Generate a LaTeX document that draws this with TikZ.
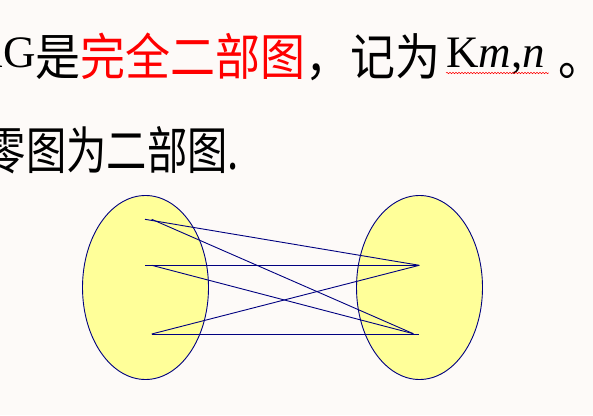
\documentclass[tikz,border=0pt]{standalone}
\usepackage{fontspec}
\setmainfont{Liberation Serif}
\newfontfamily\cjkA[FakeStretch=0.9]{Noto Sans CJK SC}
\newfontfamily\cjkB[FakeStretch=0.79]{Noto Sans CJK SC}
\usetikzlibrary{shapes.geometric,decorations.pathmorphing}
\definecolor{bg}{RGB}{253,250,248}
\definecolor{navyc}{RGB}{0,0,128}
\definecolor{pale}{RGB}{255,255,153}
\definecolor{redc}{RGB}{255,0,0}
\begin{document}
\begin{tikzpicture}[x=1pt,y=1pt,
  txt/.style={inner sep=0pt, outer sep=0pt, anchor=base west},
  latinfont/.style={font=\fontsize{45}{45}\selectfont},
  cjkfontA/.style={font=\cjkA\fontsize{50}{50}\selectfont},
  cjkfontB/.style={font=\cjkB\fontsize{51}{51}\selectfont},
  setell/.style={draw=navyc, fill=pale, line width=0.9pt, ellipse, inner sep=0pt,
                 minimum width=126pt, minimum height=184pt},
  edgeline/.style={draw=navyc, line width=0.9pt}]
\fill[bg] (0,0) rectangle (593,415);
\useasboundingbox (0,0) rectangle (593,415);
% first line
\node[txt, latinfont] (kg) at (-29,347) {KG};
\node[txt, cjkfontA] (shi) at (35.5,339) {是\textcolor{redc}{完全二部图}，记为};
\node[txt, latinfont] (kmn) at (446,347) {K\textit{m},\textit{n}};
\node[txt, cjkfontA] (stop) at (558,339) {。};
\draw[redc, line width=0.5pt, decorate,
      decoration={snake, amplitude=0.7pt, segment length=3pt}]
  ([yshift=-5pt]kmn.base west) -- ([yshift=-5pt,xshift=4pt]kmn.base east);
% second line
\node[txt, cjkfontB] (line2) at (-14,245) {零图为二部图.};
% sets
\node[setell] (A) at (145.5,127.5) {};
\node[setell] (B) at (419.5,127.5) {};
% vertices
\coordinate (l1a) at (145,195.7);
\coordinate (l1b) at (151.7,195.7);
\coordinate (l2a) at (145,149.7);
\coordinate (l2b) at (151.7,149.7);
\coordinate (l3) at (151.7,81);
\coordinate (r2) at (419.3,149.7);
\coordinate (r3a) at (413.3,81.3);
\coordinate (r3b) at (419.3,81);
% edges
\draw[edgeline] (l1a) -- (r2);
\draw[edgeline] (l1b) -- (r3a);
\draw[edgeline] (l2a) -- (r2);
\draw[edgeline] (l2b) -- (r3a);
\draw[edgeline] (l3) -- (r2);
\draw[edgeline] (l3) -- (r3b);
\end{tikzpicture}
\end{document}
